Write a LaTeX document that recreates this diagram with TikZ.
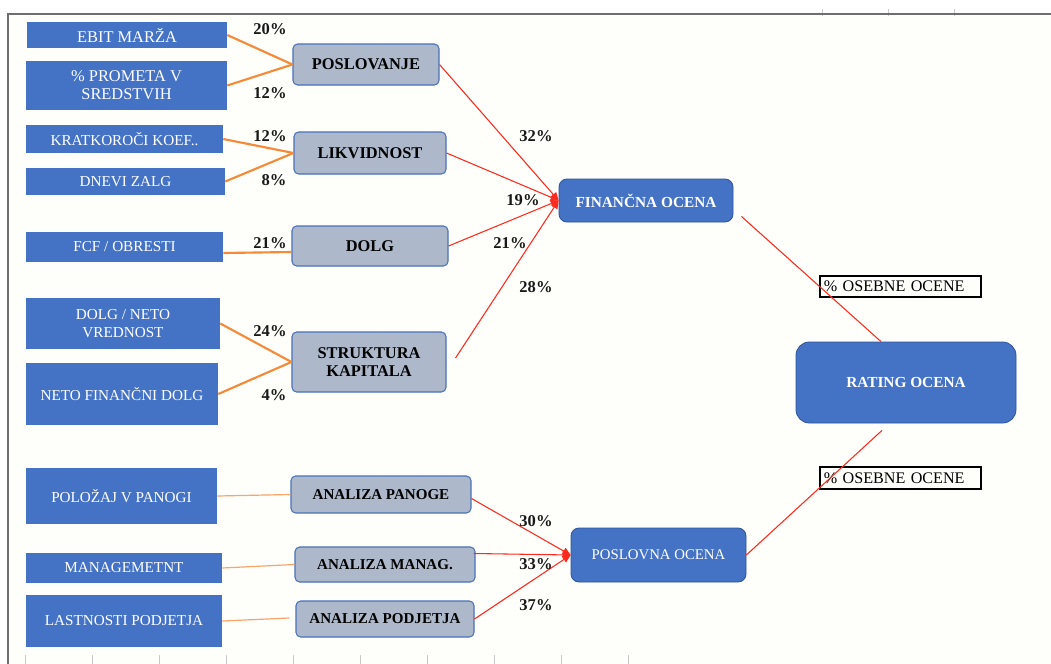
\documentclass[tikz,border=0pt]{standalone}
\usepackage{fontspec}
\setmainfont{Liberation Serif}
\usetikzlibrary{calc,arrows.meta}

\definecolor{boxblue}{HTML}{4472C4}
\definecolor{boxedge}{HTML}{2F5597}
\definecolor{greyfill}{HTML}{ADB9CA}
\definecolor{greyedge}{HTML}{4A72B8}
\definecolor{wire}{HTML}{F58A38}
\definecolor{wirelight}{HTML}{F8A46A}
\definecolor{redwire}{HTML}{FF2A1F}
\definecolor{framegrey}{HTML}{6E6E6E}
\definecolor{tickgrey}{HTML}{C8C8C8}
\definecolor{paper}{HTML}{FEFEFA}

\tikzset{
  sz/.style 2 args={minimum width=#1*0.75pt, minimum height=#2*0.75pt},
  leaf/.style={rectangle, fill=boxblue, text=white, inner sep=0pt, align=center,
    font=\fontsize{11.4}{13}\selectfont},
  leafbig/.style={leaf, font=\fontsize{12.3}{13.7}\selectfont},
  factor/.style={rectangle, rounded corners=3.5pt, fill=greyfill, draw=greyedge,
    line width=0.8pt, inner sep=0pt, align=center,
    font=\bfseries\fontsize{12.3}{13.7}\selectfont},
  factorsmall/.style={factor, font=\bfseries\fontsize{11.3}{13}\selectfont},
  score/.style={rectangle, rounded corners=6pt, fill=boxblue, draw=boxedge,
    line width=0.6pt, text=white, inner sep=0pt, align=center},
  pct/.style={font=\bfseries\fontsize{12.4}{14}\selectfont, text=black!90, inner sep=0pt},
  note/.style={draw=black, line width=1.5pt, inner xsep=2.5pt, inner ysep=0pt,
    text width=115pt, align=left, minimum height=16pt,
    font=\fontsize{12.1}{14}\selectfont},
  feed/.style={draw=wire, line width=1.6pt},
  feedthin/.style={draw=wirelight, line width=0.9pt},
  link/.style={draw=redwire, line width=0.8pt},
  linkarrow/.style={link, -{Triangle[length=6pt,width=5.5pt]}},
  tickmark/.style={draw=tickgrey, line width=0.6pt}
}

\begin{document}
\begin{tikzpicture}[x=0.75pt, y=-0.75pt]
  % page and sheet frame
  \useasboundingbox (0,0) rectangle (1051,664);
  \fill[white] (0,0) rectangle (1051,664);
  \fill[paper] (8,14) rectangle (1051,664);
  \foreach \x in {25.6,92.5,159,226,293,360,427,494,561,628}
    \draw[tickmark] (\x,655) -- (\x,664);
  \foreach \x in {822,888,954}
    \draw[tickmark] (\x,9) -- (\x,16);
  \draw[framegrey, line width=1.5pt] (8,664) -- (8,14) -- (1051,14);

  % indicators
  \node[leafbig, sz={200}{26}] (ebit)  at (127,35)    {EBIT MARŽA};
  \node[leafbig, sz={201}{49}] (prom)  at (126.5,85.5) {\% PROMETA V\\SREDSTVIH};
  \node[leaf, sz={197}{28}]    (krat)  at (124.5,139) {KRATKOROČI KOEF..};
  \node[leaf, sz={199}{27}]    (dnev)  at (125.5,181.5) {DNEVI ZALG};
  \node[leaf, sz={197}{30}]    (fcf)   at (124.5,247) {FCF / OBRESTI};
  \node[leaf, sz={194}{51}]    (dneto) at (123,323.5) {DOLG / NETO\\VREDNOST};
  \node[leaf, sz={192}{62}]    (nfd)   at (122,394)   {NETO FINANČNI DOLG};
  \node[leaf, sz={191}{56}]    (polo)  at (121.5,496) {POLOŽAJ V PANOGI};
  \node[leaf, sz={196}{30}]    (mgmt)  at (124,568)   {MANAGEMETNT};
  \node[leaf, sz={196}{52}]    (last)  at (124,621)   {LASTNOSTI PODJETJA};

  % factor groups
  \node[factor, sz={146}{41}] (posl) at (366,64.5) {POSLOVANJE};
  \node[factor, sz={152}{42}] (likv) at (370,153)  {LIKVIDNOST};
  \node[factor, sz={156}{40}] (dolg) at (370,246)  {DOLG};
  \node[factor, sz={154}{60}] (strk) at (369,362)  {STRUKTURA\\KAPITALA};
  \node[factorsmall, sz={180}{37}] (apan) at (381,494.5) {ANALIZA PANOGE};
  \node[factorsmall, sz={180}{35}] (aman) at (385,564.5) {ANALIZA MANAG.};
  \node[factorsmall, sz={178}{36}] (apod) at (385,619)   {ANALIZA PODJETJA};

  % scores
  \node[score, sz={174}{43}, font=\bfseries\fontsize{11.5}{13}\selectfont]
    (fin) at (646,200.5) {FINANČNA OCENA};
  \node[score, sz={220}{81}, rounded corners=10pt, font=\bfseries\fontsize{11.5}{13}\selectfont]
    (rating) at (906,382.5) {RATING OCENA};
  \node[score, sz={175}{54}, font=\fontsize{11.1}{13}\selectfont]
    (poslo) at (658.5,555) {POSLOVNA OCENA};

  % personal share notes
  \node[note, sz={161}{21}] (ose1) at (900.5,286.5) {\% OSEBNE OCENE};
  \node[note, sz={161}{22}] (ose2) at (900.5,478)   {\% OSEBNE OCENE};

  % indicator to factor links
  \draw[feed] (ebit.east) -- (posl.west);
  \draw[feed] (prom.east) -- (posl.west);
  \draw[feed] (krat.east) -- (likv.west);
  \draw[feed] (dnev.east) -- (likv.west);
  \draw[feed] ($(fcf.east)+(0,6)$) -- ($(dolg.west)+(0,6)$);
  \draw[feed] (dneto.east) -- (strk.west);
  \draw[feed] (nfd.east) -- (strk.west);
  \draw[feedthin] (polo.east) -- (apan.west);
  \draw[feedthin] (mgmt.east) -- (aman.west);
  \draw[feedthin] (last.east) -- ($(apod.west)+(-6,-1)$);

  % factor to score links
  \draw[linkarrow] (posl.east) -- (fin.west);
  \draw[linkarrow] (likv.east) -- (fin.west);
  \draw[linkarrow] (dolg.east) -- (fin.west);
  \draw[linkarrow] ($(strk.east)+(9,-4)$) -- (fin.west);
  \draw[linkarrow] ($(apan.east)+(0,4)$) -- (poslo.west);
  \draw[linkarrow] ($(aman.east)+(-2,-11)$) -- (poslo.west);
  \draw[linkarrow] (apod.east) -- (poslo.west);

  % scores to rating
  \draw[link] ($(fin.south east)+(8,-6)$) -- ($(rating.north)+(-25,0)$);
  \draw[link] ($(rating.south)+(-24,7)$) -- (poslo.east);

  % weights
  \node[pct] (w1)  at (270,29)  {20\%};
  \node[pct] (w2)  at (270,93)  {12\%};
  \node[pct] (w3)  at (270,136) {12\%};
  \node[pct] (w4)  at (274,180) {8\%};
  \node[pct] (w5)  at (270,243) {21\%};
  \node[pct] (w6)  at (270,331) {24\%};
  \node[pct] (w7)  at (274,395) {4\%};
  \node[pct] (w8)  at (536,136) {32\%};
  \node[pct] (w9)  at (523,200) {19\%};
  \node[pct] (w10) at (510,243) {21\%};
  \node[pct] (w11) at (536,287) {28\%};
  \node[pct] (w12) at (536,521) {30\%};
  \node[pct] (w13) at (536,564) {33\%};
  \node[pct] (w14) at (536,605) {37\%};
\end{tikzpicture}
\end{document}
